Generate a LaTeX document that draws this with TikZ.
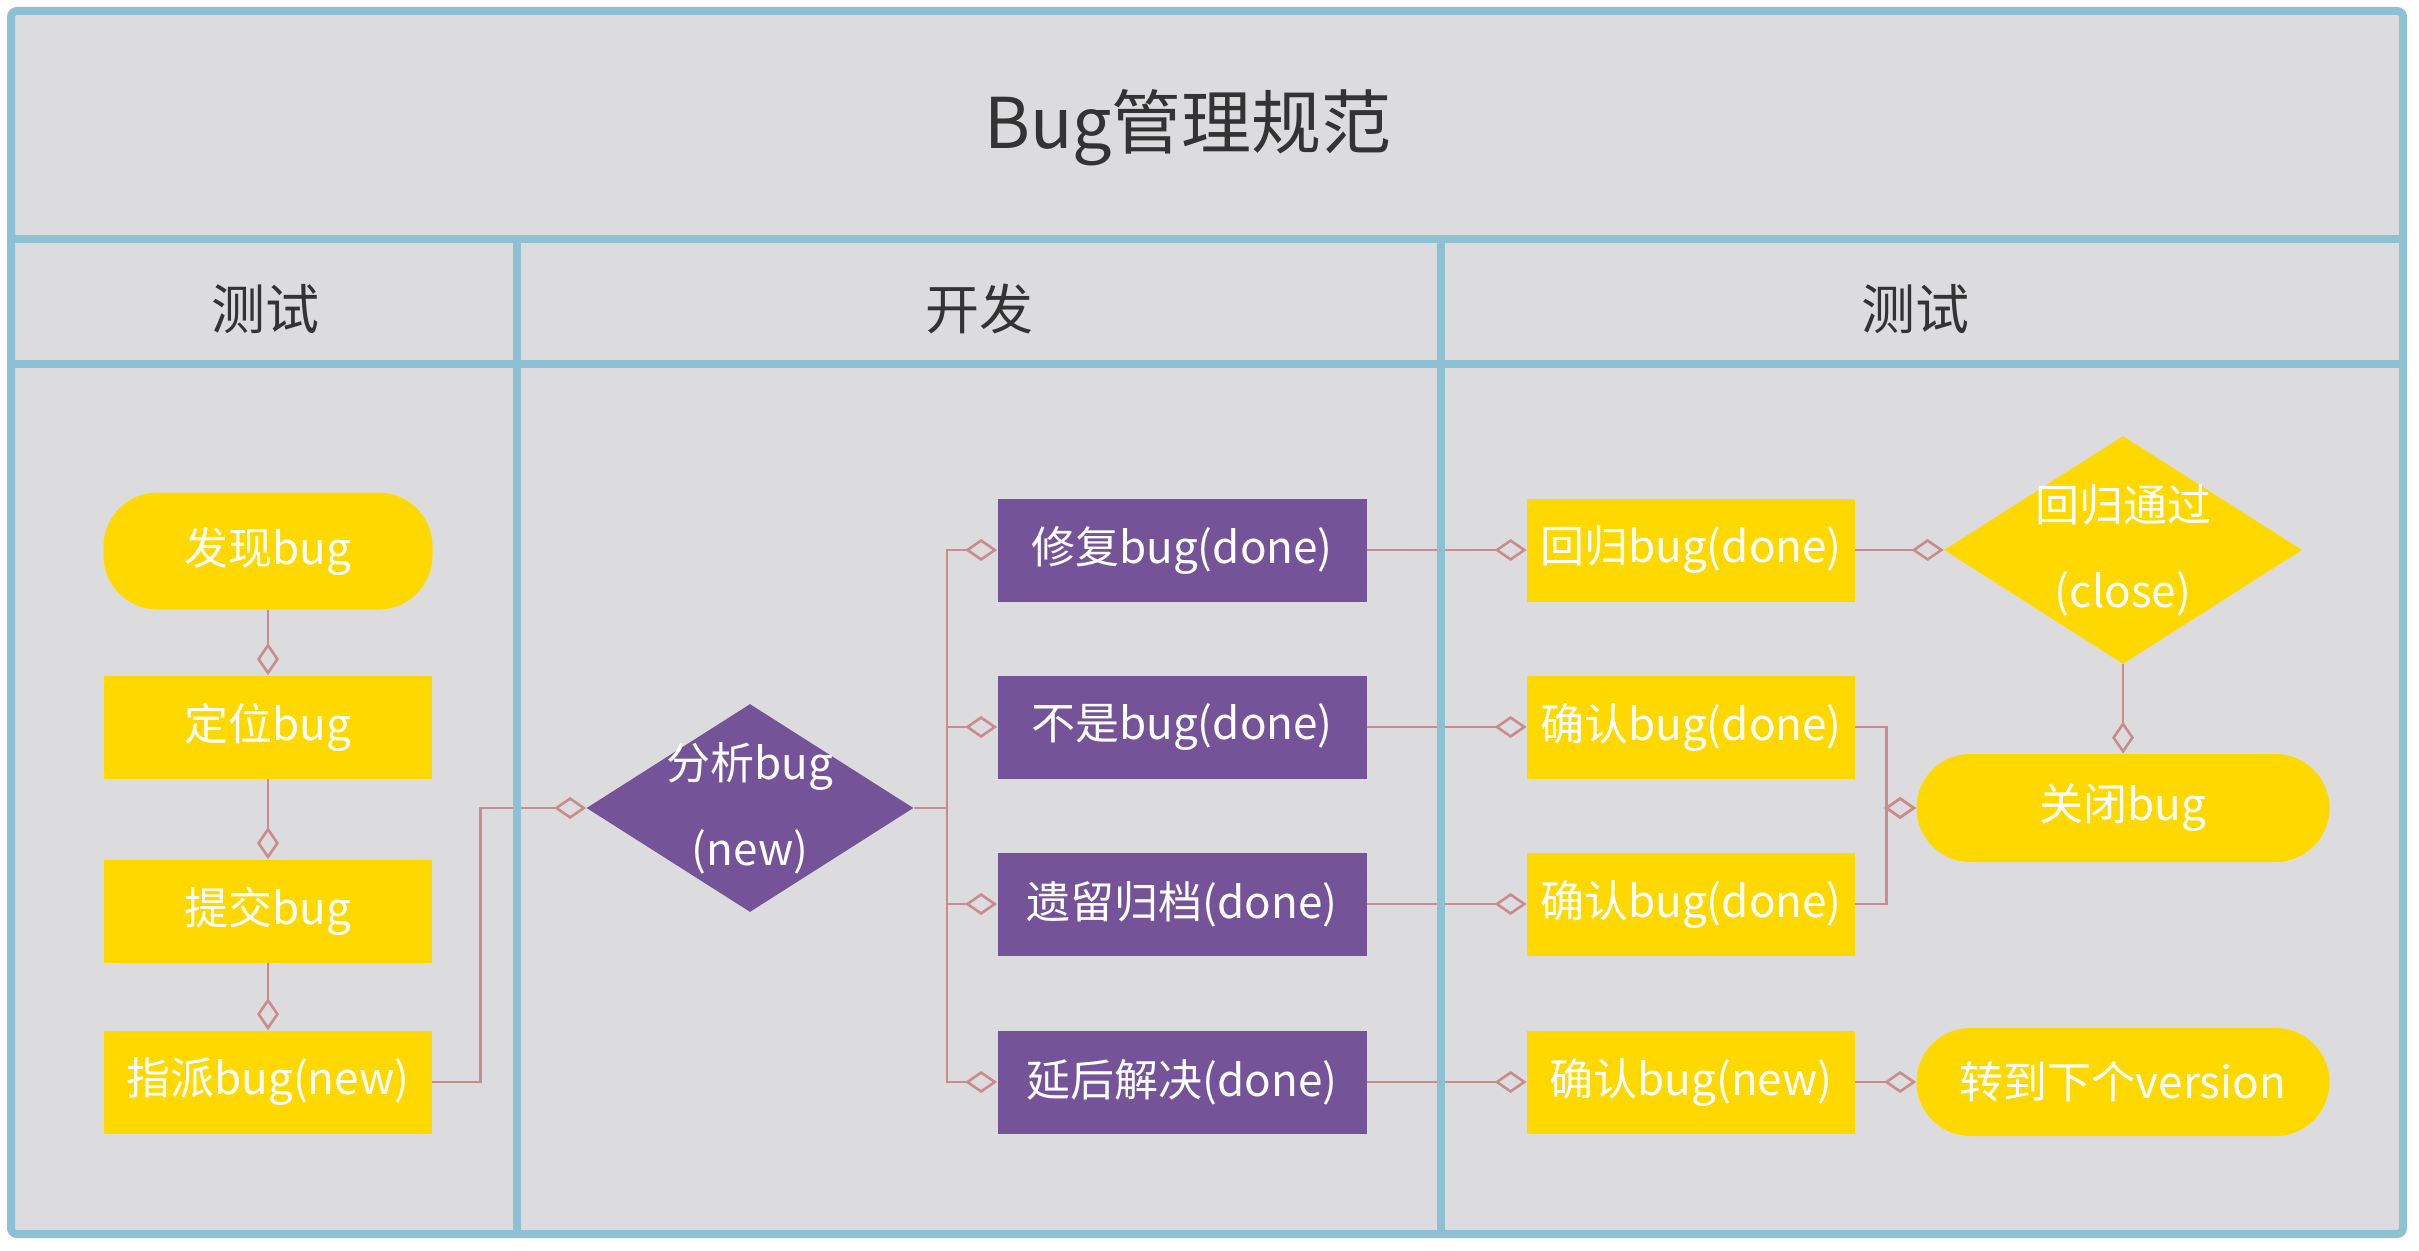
\documentclass[tikz,border=0pt]{standalone}
\usepackage{fontspec}
\setmainfont{Noto Sans CJK SC}
\usepackage{xcolor}
\usepackage{tikz}
\usetikzlibrary{shapes.geometric,arrows.meta}
\definecolor{lanefill}{HTML}{DCDCDE}
\definecolor{laneline}{HTML}{8DC0D2}
\definecolor{testyellow}{HTML}{FFD800}
\definecolor{devpurple}{HTML}{745399}
\definecolor{linkred}{HTML}{C98B8B}
\definecolor{headtext}{HTML}{333333}

\begin{document}
\begin{tikzpicture}[x=0.5pt, y=-0.5pt,
      every node/.style={inner sep=0pt, text=white, align=center, font=\fontsize{22}{43}\selectfont},
      head/.style={text=headtext, font=\fontsize{27}{30}\selectfont},
      ybox/.style={fill=testyellow, minimum width=164pt, minimum height=51.5pt},
      pbox/.style={fill=devpurple, minimum width=184.5pt, minimum height=51.5pt},
      yend/.style={fill=testyellow, rounded corners=27pt, minimum width=206.5pt, minimum height=54pt},
      pdiamond/.style={diamond, fill=devpurple, aspect=1.57, inner sep=-8pt, minimum width=163.5pt, minimum height=104pt},
      ydiamond/.style={diamond, fill=testyellow, aspect=1.57, inner sep=-8pt, minimum width=179pt, minimum height=114pt},
      lane/.style={draw=laneline, line width=4pt},
      flow/.style={draw=linkred, line width=1.3pt, -{Diamond[open, length=16pt, width=11pt]}}]
    \useasboundingbox (0,0) rectangle (2419,1251);
    \fill[lanefill] (11,11) rectangle (2403,1234);

    % headings
    \node[head, font=\fontsize{35}{40}\selectfont] (title) at (1188,128) {Bug管理规范};
    \node[head] (testA) at (265,309) {测试};
    \node[head] (dev) at (979,309) {开发};
    \node[head] (testB) at (1915,309) {测试};

    % test lane
    \node[yend, minimum height=58.5pt, minimum width=164.5pt] (find) at (268,551) {发现bug};
    \node[ybox] (locate) at (268,727) {定位bug};
    \node[ybox] (submit) at (268,911) {提交bug};
    \node[ybox] (assign) at (268,1082) {指派bug(new)};

    % dev lane
    \node[pdiamond] (analyze) at (750,808) {分析bug\\(new)};
    \node[pbox] (fix) at (1182,550) {修复bug(done)};
    \node[pbox] (notbug) at (1182,727) {不是bug(done)};
    \node[pbox] (archive) at (1182,904) {遗留归档(done)};
    \node[pbox] (defer) at (1182,1082) {延后解决(done)};

    % test lane again
    \node[ybox] (regress) at (1691,550) {回归bug(done)};
    \node[ybox] (confirmA) at (1691,727) {确认bug(done)};
    \node[ybox] (confirmB) at (1691,904) {确认bug(done)};
    \node[ybox] (confirmC) at (1691,1082) {确认bug(new)};
    \node[ydiamond] (pass) at (2123,550) {回归通过\\(close)};
    \node[yend] (close) at (2123,808) {关闭bug};
    \node[yend] (next) at (2123,1082) {转到下个version};

    \draw[flow] (find) -- (locate);
    \draw[flow] (locate) -- (submit);
    \draw[flow] (submit) -- (assign);
    \draw[flow] (assign.east) -- ++(48,0) |- (analyze.west);
    \draw[flow] (analyze.east) -- ++(33,0) |- (fix.west);
    \draw[flow] (analyze.east) -- ++(33,0) |- (notbug.west);
    \draw[flow] (analyze.east) -- ++(33,0) |- (archive.west);
    \draw[flow] (analyze.east) -- ++(33,0) |- (defer.west);
    \draw[flow] (fix) -- (regress);
    \draw[flow] (notbug) -- (confirmA);
    \draw[flow] (archive) -- (confirmB);
    \draw[flow] (defer) -- (confirmC);
    \draw[flow] (regress) -- (pass);
    \draw[flow] (pass) -- (close);
    \draw[flow] (confirmA.east) -- ++(31,0) |- (close.west);
    \draw[flow] (confirmB.east) -- ++(31,0) |- (close.west);
    \draw[flow] (confirmC) -- (next);

    % lane frame
    \draw[lane, rounded corners=3pt] (11,11) rectangle (2403,1234);
    \draw[lane] (11,239) -- (2403,239);
    \draw[lane] (11,364) -- (2403,364);
    \draw[lane] (517,239) -- (517,1234);
    \draw[lane] (1441,239) -- (1441,1234);
  \end{tikzpicture}
\end{document}
